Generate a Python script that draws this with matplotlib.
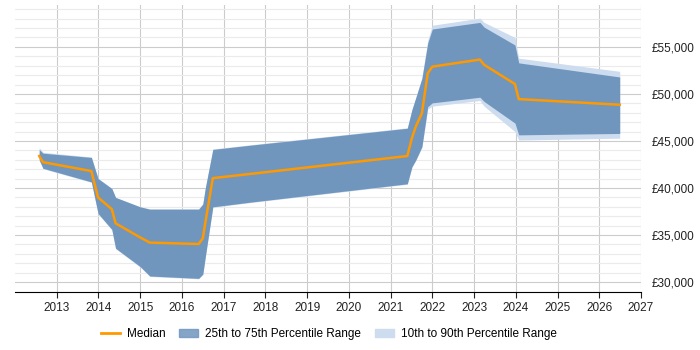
import matplotlib
matplotlib.use("Agg")
import matplotlib.pyplot as plt
from matplotlib.ticker import MultipleLocator, FuncFormatter
from matplotlib.patches import Patch
from matplotlib.lines import Line2D

plt.rcParams['font.family'] = ['Liberation Sans', 'DejaVu Sans']

# decimal years and salary percentiles
years = [2012.58, 2012.67, 2013.83, 2013.99, 2014.32, 2014.41, 2015.00, 2015.23,
         2016.40, 2016.50, 2016.56, 2016.74, 2017.64, 2021.40, 2021.51, 2021.60,
         2021.75, 2021.89, 2022.00, 2023.14, 2023.24, 2023.98, 2024.07, 2026.49]
median = [43400, 42750, 41800, 39000, 37750, 36250, 34750, 34200,
          34050, 34650, 36300, 41050, 41500, 43400, 45300, 46500,
          47950, 52200, 52900, 53650, 53100, 51050, 49450, 48850]
p75 = [44100, 43700, 43250, 41000, 39950, 39000, 38000, 37750,
       37750, 38300, 40000, 44100, 44550, 46350, 48300, 49550,
       51650, 55400, 56900, 57600, 57100, 55200, 53300, 51800]
p25 = [43000, 42100, 40650, 37300, 35600, 33600, 31650, 30650,
       30400, 30850, 32700, 38000, 38500, 40450, 42250, 42950,
       44400, 48650, 49050, 49650, 49200, 46900, 45650, 45800]
p90 = [44300, 43800, 43300, 41050, 39950, 39000, 38000, 37800,
       37800, 38300, 40000, 44150, 44600, 46400, 48350, 49600,
       51700, 55700, 57300, 58050, 57600, 56000, 53800, 52400]
p10 = [42900, 42050, 40600, 37250, 35550, 33550, 31600, 30600,
       30350, 30800, 32650, 37950, 38450, 40400, 42200, 42900,
       44300, 48400, 48700, 49300, 48700, 46000, 45100, 45300]
year_ticks = list(range(2013, 2028))

fig = plt.figure(figsize=(7, 3.5), dpi=100)
ax = fig.add_axes([15 / 700, 58 / 350, 626 / 700, 287 / 350])

ax.fill_between(years, p10, p90, color='#cddcee', lw=0)
ax.fill_between(years, p25, p75, color='#7096be', lw=0)
ax.plot(years, median, color='#ff9900', lw=1.8)

ax.set_xlim(2012, 2027)
ax.set_ylim(28950, 59450)
ax.set_xticks(year_ticks)
ax.yaxis.set_major_locator(MultipleLocator(5000))
ax.yaxis.set_minor_locator(MultipleLocator(1000))
ax.yaxis.set_major_formatter(FuncFormatter(lambda v, p: f'£{v:,.0f}'))
ax.yaxis.tick_right()

ax.grid(axis='x', color='#cccccc', lw=0.8)
ax.grid(axis='y', which='major', color='#cccccc', lw=0.8)
ax.grid(axis='y', which='minor', color='#ebebeb', lw=0.8)
ax.set_axisbelow(True)

for s in ['top', 'left', 'right']:
    ax.spines[s].set_visible(False)
ax.spines['bottom'].set_color('black')
ax.tick_params(axis='x', length=4, labelsize=8.5, colors='#222222')
ax.tick_params(axis='y', which='both', length=0, labelsize=8.5, colors='#222222', pad=8)

handles = [Line2D([], [], color='#ff9900', lw=2),
           Patch(color='#7096be', alpha=0.85),
           Patch(color='#cddcee')]
labels = ['Median', '25th to 75th Percentile Range', '10th to 90th Percentile Range']
fig.legend(handles, labels, loc='center', bbox_to_anchor=(0.47, 0.045), ncol=3,
           frameon=False, fontsize=8.5, handlelength=1.6, columnspacing=1.15,
           handletextpad=0.6)

fig.savefig('out.png', dpi=100)
